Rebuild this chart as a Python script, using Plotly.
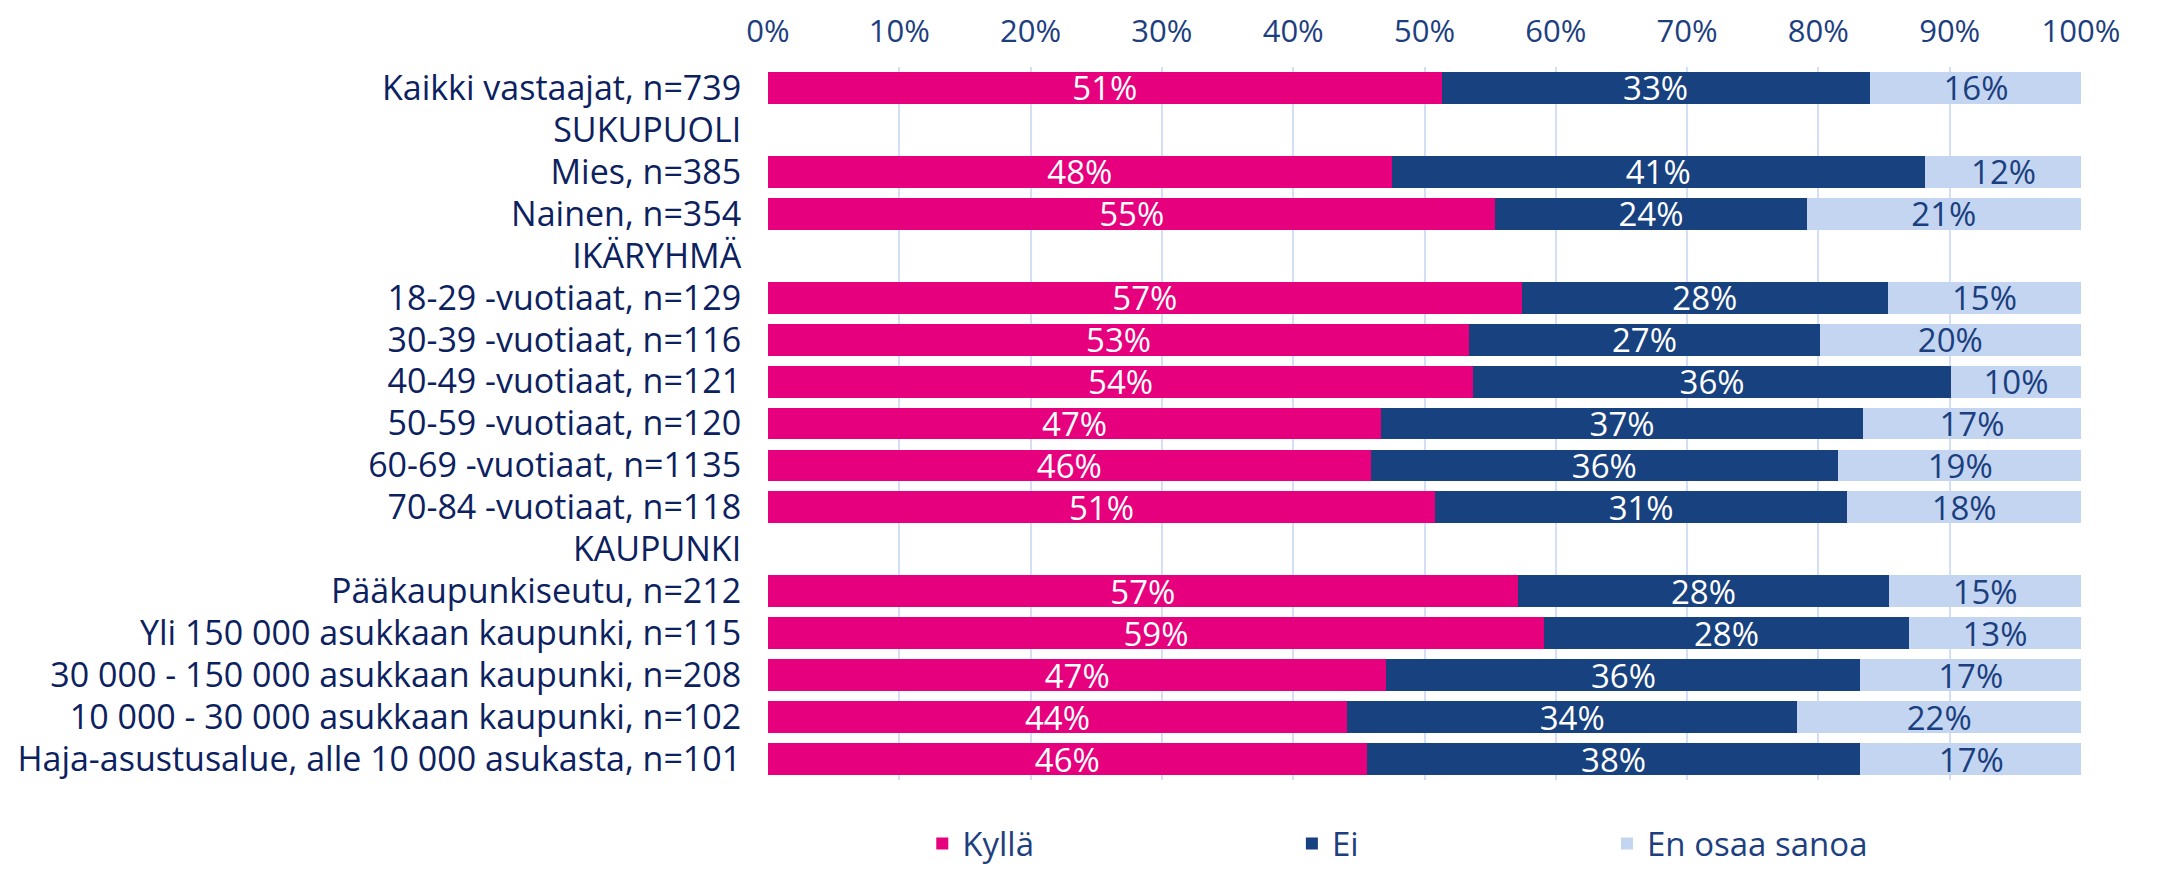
import plotly.graph_objects as go

categories = [
    "Kaikki vastaajat, n=739",
    "SUKUPUOLI",
    "Mies, n=385",
    "Nainen, n=354",
    "IKÄRYHMÄ",
    "18-29 -vuotiaat, n=129",
    "30-39 -vuotiaat, n=116",
    "40-49 -vuotiaat, n=121",
    "50-59 -vuotiaat, n=120",
    "60-69 -vuotiaat, n=1135",
    "70-84 -vuotiaat, n=118",
    "KAUPUNKI",
    "Pääkaupunkiseutu, n=212",
    "Yli 150 000 asukkaan kaupunki, n=115",
    "30 000 - 150 000 asukkaan kaupunki, n=208",
    "10 000 - 30 000 asukkaan kaupunki, n=102",
    "Haja-asustusalue, alle 10 000 asukasta, n=101",
]

kylla = [51.3, None, 47.5, 55.4, None, 57.4, 53.4, 53.7, 46.7, 45.9, 50.8, None, 57.1, 59.1, 47.1, 44.1, 45.6]
ei = [32.6, None, 40.6, 23.7, None, 27.9, 26.7, 36.4, 36.7, 35.6, 31.4, None, 28.3, 27.8, 36.1, 34.3, 37.6]
eos = [16.2, None, 12.0, 20.9, None, 14.7, 19.9, 9.9, 16.6, 18.6, 17.8, None, 14.6, 13.1, 16.8, 21.6, 16.9]

series = [
    ("Kyllä", kylla, "#E6007E", "#FFFFFF", "legend"),
    ("Ei", ei, "#17417F", "#FFFFFF", "legend2"),
    ("En osaa sanoa", eos, "#C3D5F1", "#1B3F7E", "legend3"),
]

FONT = "Open Sans, Noto Sans, Liberation Sans, sans-serif"
NAVY_TXT = "#1E3F7F"
LABEL_TXT = "#0C2160"

fig = go.Figure()
for name, vals, color, tcolor, leg in series:
    fig.add_trace(go.Bar(
        name=name,
        y=categories,
        x=vals,
        orientation="h",
        marker=dict(color=color, line=dict(width=0)),
        texttemplate="%{x:.0f}%",
        textposition="inside",
        insidetextanchor="middle",
        textangle=0,
        textfont=dict(family=FONT, size=33, color=tcolor),
        legend=leg,
        hoverinfo="skip",
    ))

legend_common = dict(
    orientation="h",
    yanchor="middle",
    y=-0.089,
    xanchor="left",
    font=dict(family=FONT, size=33, color=NAVY_TXT),
    bgcolor="rgba(0,0,0,0)",
    borderwidth=0,
)

fig.update_layout(
    width=2149,
    height=861,
    barmode="stack",
    bargap=0.24,
    plot_bgcolor="white",
    paper_bgcolor="white",
    margin=dict(l=760, r=76, t=59, b=89, pad=0, autoexpand=False),
    uniformtext=dict(minsize=33, mode="show"),
    legend=dict(legend_common, x=0.1175),
    legend2=dict(legend_common, x=0.399),
    legend3=dict(legend_common, x=0.639),
    xaxis=dict(
        side="top",
        range=[0, 100],
        tickvals=[0, 10, 20, 30, 40, 50, 60, 70, 80, 90, 100],
        ticktext=["0%", "10%", "20%", "30%", "40%", "50%", "60%", "70%", "80%", "90%", "100%"],
        tickfont=dict(family=FONT, size=31, color=NAVY_TXT),
        showgrid=True,
        gridcolor="#D3DFF4",
        gridwidth=2,
        zeroline=False,
        showline=False,
        ticks="outside",
        ticklen=12,
        tickcolor="rgba(0,0,0,0)",
        fixedrange=True,
        automargin=False,
    ),
    yaxis=dict(
        autorange="reversed",
        tickfont=dict(family=FONT, size=34, color=LABEL_TXT),
        showgrid=False,
        zeroline=False,
        showline=False,
        ticks="outside",
        ticklen=19,
        tickcolor="rgba(0,0,0,0)",
        fixedrange=True,
        automargin=False,
    ),
    showlegend=True,
)

fig.write_html("out.html")
